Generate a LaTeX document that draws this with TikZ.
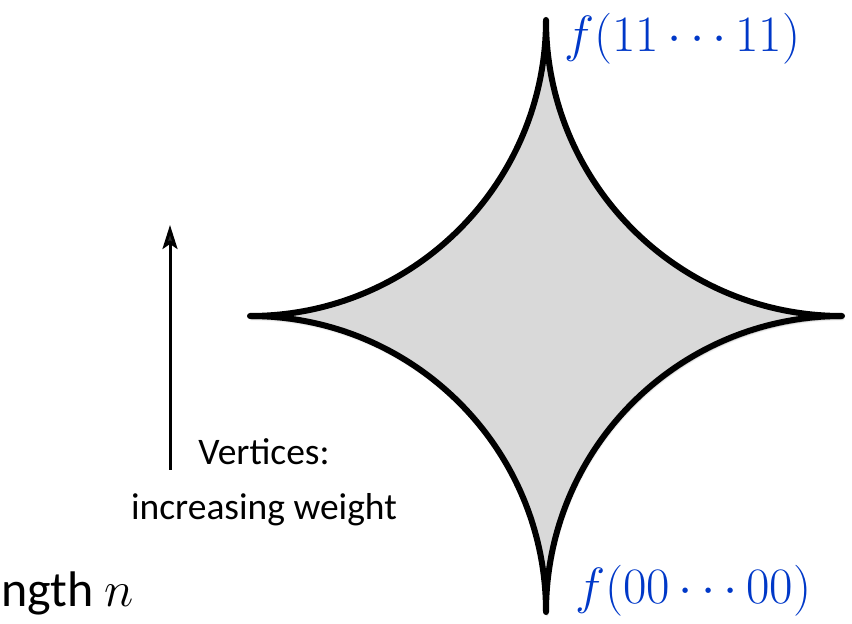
\documentclass[tikz,border=0pt]{standalone}
\usepackage{fix-cm}
\usepackage[no-math]{fontspec}
\setmainfont{Carlito}
\usetikzlibrary{arrows.meta,shadows.blur}
\definecolor{labelblue}{RGB}{0,56,200}
\definecolor{shapefill}{RGB}{217,217,217}
\begin{document}
\begin{tikzpicture}[x=1pt,y=1pt,
  outline/.style={line width=6pt, line join=round, draw=black, fill=shapefill,
    blur shadow={shadow xshift=1pt, shadow yshift=-3pt, shadow blur steps=6, shadow opacity=35}},
  pointer/.style={line width=3pt, -{Stealth[length=24pt,width=15pt,inset=5pt]}},
  bodytext/.style={font=\fontsize{37.5}{55}\selectfont, align=center, inner sep=0pt},
  biglabel/.style={font=\fontsize{50}{56}\selectfont, inner sep=0pt, anchor=base west},
  vertexlabel/.style={text=labelblue, font=\fontsize{51}{56}\selectfont, inner sep=0pt, anchor=base west}]
\useasboundingbox (0,0) rectangle (852,624);
\coordinate (T) at (546,604);
\path[outline] (T) arc[start angle=180,end angle=270,radius=296]
  arc[start angle=90,end angle=180,radius=296]
  arc[start angle=0,end angle=90,radius=296]
  arc[start angle=270,end angle=360,radius=296] -- cycle;
\node[vertexlabel] (toplabel) at (564,572) {$f(11\cdots11)$};
\node[vertexlabel] (botlabel) at (575,20) {$f(00\cdots00)$};
\coordinate (arrowtail) at (170,154);
\coordinate (arrowtip) at (170,399);
\draw[pointer] (arrowtail) -- (arrowtip);
\node[bodytext] (vlabel) at (264,142) {Vertices:\\increasing weight};
\node[biglabel] (lenlabel) at (1,17) {ngth $n$};
\end{tikzpicture}
\end{document}
